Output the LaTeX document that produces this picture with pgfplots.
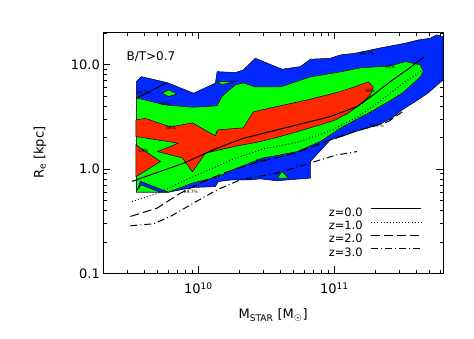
\documentclass[border=0pt]{standalone}
\usepackage{fontspec}
\setmainfont{DejaVu Sans}
\usepackage{pgfplots}
\pgfplotsset{compat=1.18}
\definecolor{cblue}{RGB}{0,40,255}
\definecolor{cgreen}{RGB}{0,255,0}
\definecolor{cred}{RGB}{255,40,0}
\newcommand{\clab}{\fontsize{4.5}{5}\selectfont}
\begin{document}
\begin{tikzpicture}
\begin{axis}[
 scale only axis, width=339.7pt, height=241pt,
 xmode=log, ymode=log,
 xmin=2e9, xmax=6.3e11, ymin=0.1, ymax=20.3,
 xtick={1e10,1e11}, xticklabels={10\textsuperscript{10},10\textsuperscript{11}},
 ytick={0.1,1,10}, yticklabels={0.1,1.0,10.0},
 minor xtick={2e9,3e9,4e9,5e9,6e9,7e9,8e9,9e9,2e10,3e10,4e10,5e10,6e10,7e10,8e10,9e10,2e11,3e11,4e11,5e11,6e11},
 minor ytick={0.2,0.3,0.4,0.5,0.6,0.7,0.8,0.9,2,3,4,5,6,7,8,9,20},
 major tick length=7pt, minor tick length=3.5pt,
 every tick/.style={black, line width=0.6pt},
 axis line style={line width=0.9pt},
 tick label style={font=\fontsize{13}{15}\selectfont},
 xticklabel style={yshift=-6pt},
 label style={font=\fontsize{13}{15}\selectfont},
 xlabel={M\textsubscript{STAR} [M\textsubscript{☉}]},
 xlabel style={at={(axis description cs:0.5,-0.173)}, anchor=center},
 ylabel={R\textsubscript{e} [kpc]},
 ylabel style={at={(axis description cs:-0.186,0.5)}, anchor=center},
 legend style={draw=none, fill=none, inner sep=0pt, outer sep=0pt,
   at={(axis description cs:0.9373,0.0706)}, anchor=south east,
   font=\fontsize{11.5}{12}\selectfont,
   row sep=5.4pt, column sep=8pt,
   nodes={inner sep=0pt, text height=7.3pt, text depth=0pt}},
 legend plot pos=right, legend cell align=right,
 legend image code/.code={\draw[#1] (0pt,3.8pt) -- (50pt,3.8pt);},
]
% 99.7% region
\addplot[fill=cblue, draw=black, line width=0.5pt, forget plot] coordinates {
(3.50e9,6.85) (3.81e9,7.64) (5.89e9,6.70) (9.23e9,5.30) (1.334e10,6.61) (1.373e10,8.53)
(1.871e10,8.35) (2.143e10,8.86) (2.624e10,11.46) (4.12e10,9.00) (5.62e10,9.52) (6.66e10,11.21)
(9.35e10,11.46) (1.107e11,12.33) (1.427e11,12.80) (2.18e11,14.38) (3.33e11,15.96) (4.15e11,17.16)
(5.08e11,17.81) (5.62e11,19.15) (6.3e11,18.45) (6.3e11,7.11) (4.91e11,5.34) (3.94e11,4.40)
(3.15e11,3.67) (2.655e11,3.06) (2.107e11,2.64) (1.778e11,2.47) (1.427e11,2.275) (1.139e11,2.04)
(9.35e10,1.895) (6.66e10,1.175) (6.66e10,0.815) (4.59e10,0.785) (3.79e10,0.768) (2.857e10,0.802)
(2.41e10,0.785) (1.778e10,0.785) (1.403e10,0.756) (1.334e10,0.677) (8.99e9,0.662) (6.02e9,0.598)
(3.50e9,0.598)} --cycle;
% 95% region
\addplot[fill=cgreen, draw=black, line width=0.5pt, forget plot] coordinates {
(3.50e9,4.78) (5.72e9,4.09) (8.99e9,3.89) (1.373e10,4.01) (1.50e10,4.995) (1.871e10,6.37)
(2.143e10,6.65) (2.624e10,6.09) (4.01e10,6.09) (6.66e10,7.59) (1.107e11,8.48) (1.552e11,9.26)
(2.58e11,9.67) (3.33e11,10.64) (4.29e11,9.89) (4.51e11,8.53) (4.29e11,7.59) (3.15e11,5.30)
(2.495e11,4.40) (1.778e11,3.41) (1.427e11,2.94) (1.107e11,2.45) (7.89e10,1.825) (5.32e10,1.464)
(4.01e10,1.361) (3.007e10,1.274) (2.41e10,1.141) (1.778e10,0.978) (1.403e10,0.844) (8.99e9,0.730)
(6.02e9,0.598) (3.50e9,0.598)} --cycle;
\addplot[fill=cgreen, draw=black, line width=0.5pt, forget plot] coordinates {
(5.41e9,5.30) (6.05e9,5.70) (6.97e9,5.22) (6.05e9,4.92)} --cycle;
\addplot[fill=cgreen, draw=black, line width=0.5pt, forget plot] coordinates {
(1.373e10,6.85) (1.818e10,6.85) (1.493e10,6.37)} --cycle;
\addplot[fill=cgreen, draw=black, line width=0.5pt, forget plot] coordinates {
(3.79e10,0.815) (4.12e10,0.942) (4.61e10,0.815)} --cycle;
\addplot[fill=cblue, draw=black, line width=0.5pt, forget plot] coordinates {
(3.56e9,0.63) (3.75e9,0.76) (6.02e9,0.598) (5.26e9,0.598) (3.81e9,0.703)} --cycle;
% 68% region
\addplot[fill=cred, draw=black, line width=0.5pt, forget plot] coordinates {
(3.47e9,2.94) (4.08e9,3.04) (6.22e9,2.52) (9.03e9,2.755) (1.334e10,2.07) (1.38e10,2.36)
(2.143e10,2.47) (2.535e10,3.51) (3.38e10,3.83) (6.33e10,4.57) (1.107e11,5.49) (1.427e11,6.13)
(1.778e11,6.80) (1.935e11,6.09) (1.84e11,5.11) (1.606e11,4.28) (1.268e11,3.43) (1.017e11,2.94)
(7.89e10,2.64) (5.35e10,2.275) (4.01e10,2.04) (2.857e10,1.825) (1.936e10,1.66) (1.126e10,1.413)
(9.03e9,0.936) (7.63e9,1.274) (5.00e9,1.464) (7.12e9,1.762) (3.47e9,2.04)} --cycle;
\addplot[fill=cred, draw=black, line width=0.5pt, forget plot] coordinates {
(3.47e9,1.697) (5.26e9,1.175) (3.47e9,0.838)} --cycle;
\addplot[black, line width=0.9pt, forget plot] coordinates {(3.50e9,4.75) (5.89e9,6.70)};
% contour labels
\node[font=\clab] at (axis cs:3.95e9,5.35) {99.7\%};
\node[font=\clab] at (axis cs:5.72e9,4.15) {95\%};
\node[font=\clab] at (axis cs:6.3e9,2.45) {68\%};
\node[font=\clab] at (axis cs:3.95e9,1.48) {68\%};
\node[font=\clab] at (axis cs:8.8e9,0.6) {99.7\%};
\node[font=\clab] at (axis cs:2.9e10,1.19) {95\%};
\node[font=\clab] at (axis cs:2.05e11,2.58) {99.7\%};
\node[font=\clab] at (axis cs:1.84e11,5.6) {68\%};
\node[font=\clab] at (axis cs:2.58e11,9.5) {95\%};
\node[font=\clab] at (axis cs:1.75e11,12.7) {99.7\%};
% median relations
\addplot[black, line width=1pt] coordinates {
(3.25e9,0.759) (7.80e9,1.134) (1.373e10,1.578) (2.153e10,1.966) (4.74e10,2.54) (9.35e10,3.17)
(1.469e11,3.95) (1.935e11,5.11) (2.58e11,6.85) (3.42e11,8.86) (4.54e11,11.72)};
\addlegendentry{z=0.0}
\addplot[black, line width=1pt, dash pattern=on 0.9pt off 2.2pt] coordinates {
(3.25e9,0.487) (5.08e9,0.585) (7.59e9,0.756) (1.19e10,0.978) (1.871e10,1.266) (3.007e10,1.553)
(5.35e10,1.793) (9.35e10,2.31) (1.452e11,3.11) (2.14e11,4.38) (3.16e11,6.51) (4.36e11,8.67)};
\addlegendentry{z=1.0}
\addplot[black, line width=1pt, dash pattern=on 9pt off 4pt] coordinates {
(3.16e9,0.35) (4.97e9,0.4205) (7.37e9,0.585) (1.034e10,0.730) (1.527e10,0.910) (2.70e10,1.154)
(5.16e10,1.413) (9.35e10,1.895) (1.452e11,2.31) (1.90e11,2.54) (2.495e11,2.84) (3.16e11,3.51)};
\addlegendentry{z=2.0}
\addplot[black, line width=1pt, dash pattern=on 7pt off 3pt on 1pt off 3pt] coordinates {
(3.16e9,0.285) (4.69e9,0.298) (6.22e9,0.35) (8.74e9,0.452) (1.373e10,0.630) (2.037e10,0.785)
(3.79e10,0.910) (6.66e10,1.141) (1.047e11,1.361) (1.469e11,1.464)};
\addlegendentry{z=3.0}
\node[anchor=west, font=\fontsize{12}{14}\selectfont] at (axis description cs:0.058,0.9) {B/T>0.7};
\end{axis}
\pgfresetboundingbox
\path ([xshift=-103.3pt,yshift=-65.7pt]current axis.south west) rectangle ([xshift=31pt,yshift=32.3pt]current axis.north east);
\end{tikzpicture}
\end{document}
